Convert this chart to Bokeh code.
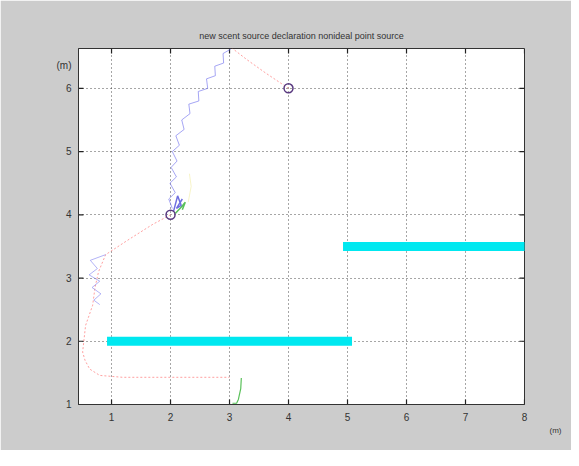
from bokeh.plotting import figure
from bokeh.models import Range1d, FixedTicker, Title
from bokeh.embed import file_html
from bokeh.resources import INLINE

# ---- data ----
x_ticks = [1, 2, 3, 4, 5, 6, 7, 8]
y_ticks = [1, 2, 3, 4, 5, 6]
y_unit_pos = 6.36
unit_text = "(m)"
title_text = "new scent source declaration nonideal point source"

# cyan obstacle walls
wall1_x = [1, 5]
wall1_y = [2, 2]
wall2_x = [5, 8]
wall2_y = [3.5, 3.5]

# source points
src_x = [2, 4]
src_y = [4, 6]

# red dotted paths
red1_x = [4.0, 3.6, 3.3, 3.05]
red1_y = [6.0, 6.25, 6.45, 6.63]
red2_x = [2.0, 1.7, 1.31, 0.9, 0.78, 0.72, 0.68, 0.56, 0.51, 0.55, 0.63, 0.8, 1.19, 2.03, 3.0]
red2_y = [4.0, 3.85, 3.62, 3.37, 3.1, 2.85, 2.57, 2.25, 1.83, 1.7, 1.56, 1.46, 1.43, 1.43, 1.43]

# blue zigzag paths
blue1_x = [2.03, 1.97, 2.08, 1.99, 2.1, 2.01, 2.11, 2.03, 2.15, 2.09, 2.23, 2.19, 2.33, 2.31,
           2.48, 2.47, 2.63, 2.61, 2.76, 2.75, 2.9, 2.89, 3.02]
blue1_y = [4.10, 4.25, 4.35, 4.5, 4.6, 4.75, 4.85, 5.0, 5.1, 5.25, 5.35, 5.5, 5.6, 5.75,
           5.8, 5.95, 6.0, 6.15, 6.2, 6.35, 6.4, 6.55, 6.62]
blue2_x = [2.05, 2.12, 2.18, 2.1, 2.2]
blue2_y = [4.05, 4.3, 4.15, 4.1, 4.25]
blue3_x = [0.9, 0.64, 0.76, 0.62, 0.8, 0.67, 0.82, 0.7, 0.8]
blue3_y = [3.37, 3.28, 3.15, 3.05, 2.95, 2.85, 2.75, 2.65, 2.58]

# green short paths
green1_x = [2.08, 2.18, 2.25, 2.2]
green1_y = [4.02, 4.12, 4.2, 4.08]
green2_x = [3.2, 3.19, 3.15, 3.12, 3.05]
green2_y = [1.42, 1.25, 1.08, 1.02, 1.02]

# yellow faint path
yellow_x = [2.3, 2.35, 2.32]
yellow_y = [4.2, 4.45, 4.65]

X0, X1, Y0, Y1 = 0.44, 8.0, 1.0, 6.63
FW, FH = 446, 356

p = figure(width=571, height=450, output_backend="svg", toolbar_location=None,
           x_range=Range1d(X0, X1), y_range=Range1d(Y0, Y1),
           min_border_left=78, min_border_right=47, min_border_top=48, min_border_bottom=46,
           background_fill_color="white", border_fill_color="#cccccc",
           title=title_text)

p.title.align = "center"
p.title.text_font = "Liberation Sans"
p.title.text_font_size = "9px"
p.title.text_font_style = "normal"
p.title.text_color = "#333333"
p.title.offset = 0
p.title.standoff = 16

p.outline_line_color = "#333333"
p.outline_line_width = 1

for ax in (p.xaxis[0], p.yaxis[0]):
    ax.major_tick_in = 0
    ax.major_tick_out = 0
    ax.minor_tick_in = 0
    ax.minor_tick_out = 0
    ax.axis_line_color = "#333333"
    ax.major_label_text_font = "Liberation Sans"
    ax.major_label_text_font_size = "10px"
    ax.major_label_text_color = "#333333"
p.xaxis.ticker = FixedTicker(ticks=x_ticks)
p.yaxis.ticker = FixedTicker(ticks=y_ticks + [y_unit_pos])
p.yaxis.major_label_overrides = {y_unit_pos: unit_text}
p.xaxis.major_label_standoff = 8
p.yaxis.major_label_standoff = 7

# x unit label at the right end of the x axis
xunit = Title(text=unit_text, align="right", offset=-37, standoff=0,
              text_font="Liberation Sans", text_font_size="8px",
              text_font_style="normal", text_color="#333333")
p.add_layout(xunit, "below")

p.xgrid.ticker = FixedTicker(ticks=x_ticks)
p.ygrid.ticker = FixedTicker(ticks=y_ticks)
p.grid.grid_line_color = "#222222"
p.grid.grid_line_dash = "1 3"
p.grid.grid_line_width = 1
p.grid.grid_line_alpha = 0.8

# inward box ticks on all four sides (derived from tick lists)
tx = 5 * (X1 - X0) / FW
ty = 5 * (Y1 - Y0) / FH
tick_kw = dict(line_color="#222222", line_width=1.2)
p.segment(x0=x_ticks, y0=[Y0] * len(x_ticks), x1=x_ticks, y1=[Y0 + ty] * len(x_ticks), **tick_kw)
p.segment(x0=x_ticks, y0=[Y1] * len(x_ticks), x1=x_ticks, y1=[Y1 - ty] * len(x_ticks), **tick_kw)
p.segment(x0=[X0] * len(y_ticks), y0=y_ticks, x1=[X0 + tx] * len(y_ticks), y1=y_ticks, **tick_kw)
p.segment(x0=[X1] * len(y_ticks), y0=y_ticks, x1=[X1 - tx] * len(y_ticks), y1=y_ticks, **tick_kw)

# trajectories
p.line(red1_x, red1_y, line_color="#ff6060", line_alpha=0.6, line_dash="2 2", line_width=1)
p.line(red2_x, red2_y, line_color="#ff6060", line_alpha=0.6, line_dash="2 2", line_width=1)
p.line(blue1_x, blue1_y, line_color="#8080f0", line_alpha=0.7, line_width=1)
p.line(blue3_x, blue3_y, line_color="#8080f0", line_alpha=0.6, line_width=1)
p.line(yellow_x, yellow_y, line_color="#e8e060", line_alpha=0.35, line_width=1)
p.line(green1_x, green1_y, line_color="#30b030", line_alpha=0.8, line_width=1.5)
p.line(blue2_x, blue2_y, line_color="#4a4ad8", line_alpha=0.8, line_width=1.5)
p.line(green2_x, green2_y, line_color="#30b030", line_alpha=0.8, line_width=1.2)

# walls
p.line(wall1_x, wall1_y, line_color="#00e8f0", line_width=9, line_cap="square")
p.line(wall2_x, wall2_y, line_color="#00e8f0", line_width=9, line_cap="square")

# sources
p.scatter(src_x, src_y, marker="circle", size=9, fill_color=None,
          line_color="#5a3a80", line_width=1.5)

open("out.html", "w").write(file_html(p, INLINE))
